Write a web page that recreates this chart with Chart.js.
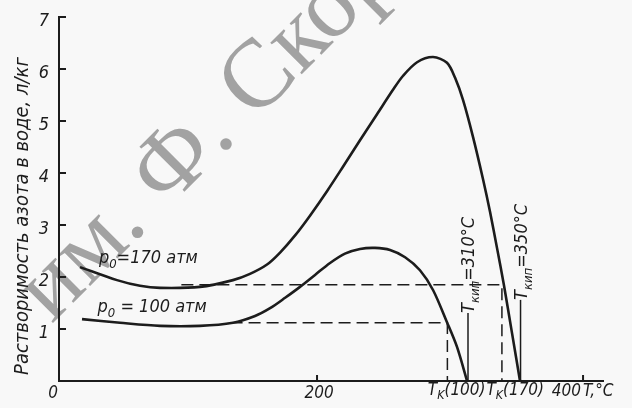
<!DOCTYPE html>
<html>
<head>
<meta charset="utf-8">
<script src="https://cdn.jsdelivr.net/npm/chart.js@4.4.1/dist/chart.umd.min.js"></script>
<style>
  html, body { margin: 0; padding: 0; background: #f8f8f8; }
  #wrap { width: 632px; height: 408px; }
</style>
</head>
<body>
<div id="wrap"><canvas id="chart"></canvas></div>
<script>
// ── Data ─────────────────────────────────────────────────────
// p0 = 170 atm
const temp170 = [21.8, 49.6, 66.9, 82, 112, 136.8, 149.6, 162.4, 172.2, 183.5, 194.7, 207.5, 219.5, 232.3, 245.1, 257.1, 264.7, 275.2, 287.2, 297.7, 303.8, 309.8, 317.3, 324.8, 330.1, 335.3, 340.6, 346.6, 352.6];
const sol170  = [2.19, 1.94, 1.83, 1.79, 1.81, 1.94, 2.06, 2.24, 2.47, 2.80, 3.18, 3.65, 4.12, 4.63, 5.13, 5.60, 5.87, 6.13, 6.23, 6.12, 5.83, 5.40, 4.69, 3.88, 3.25, 2.56, 1.83, 0.92, 0];
// p0 = 100 atm
const temp100 = [23.3, 51.9, 82, 112, 136.8, 153.4, 164.7, 176, 187.2, 198.5, 209.8, 221, 232.3, 243.6, 254.9, 266.2, 277.4, 287.2, 297.7, 305.3, 312.8];
const sol100  = [1.19, 1.12, 1.06, 1.06, 1.12, 1.25, 1.40, 1.60, 1.81, 2.04, 2.27, 2.45, 2.54, 2.56, 2.52, 2.38, 2.13, 1.75, 1.13, 0.65, 0];

// dashed guides to the critical temperatures
const guide170X = [98, 339, 339];
const guide170Y = [1.85, 1.85, 0];
const guide100X = [135, 298, 298];
const guide100Y = [1.12, 1.12, 0];

// boiling point markers
const boil310X = [313.5, 313.5];
const boil310Y = [0, 1.31];
const boil350X = [353, 353];
const boil350Y = [0, 1.56];

// axes
const xTickValues = [0, 200, 400];
const xTickLabels = ["0", "200", "400"];
const yTickValues = [1, 2, 3, 4, 5, 6, 7];
const yTickLabels = ["1", "2", "3", "4", "5", "6", "7"];
const critValues  = [305, 349];
const critLabels  = ["(100)", "(170)"];

const INK  = "#1c1c1c";
const FONT = '"Liberation Sans Narrow", "DejaVu Sans Condensed", "Liberation Sans", sans-serif';

const pts = (xs, ys) => xs.map((x, i) => ({ x, y: ys[i] }));

// text made of parts, some of them subscripts
function partsWidth(ctx, parts, size) {
  let w = 0;
  parts.forEach(p => {
    ctx.font = `italic ${p.sub ? size * 0.72 : size}px ${FONT}`;
    w += ctx.measureText(p.t).width;
  });
  return w;
}
function drawParts(ctx, x, y, parts, size) {
  let cx = x;
  parts.forEach(p => {
    ctx.font = `italic ${p.sub ? size * 0.72 : size}px ${FONT}`;
    ctx.fillText(p.t, cx, p.sub ? y + size * 0.28 : y);
    cx += ctx.measureText(p.t).width;
  });
}

// ── Decorations plugin ───────────────────────────────────────
const decor = {
  id: "decor",
  beforeDraw(chart) {
    const ctx = chart.ctx;
    ctx.save();
    ctx.fillStyle = "#f8f8f8";
    ctx.fillRect(0, 0, chart.width, chart.height);

    // library stamp across the scan
    ctx.translate(137, 232);
    ctx.rotate(-Math.PI / 4);
    ctx.font = '97px "Liberation Serif", "DejaVu Serif", serif';
    ctx.fillStyle = "#a2a2a2";
    ctx.textBaseline = "alphabetic";
    const w1 = ctx.measureText("им").width;
    const wd = ctx.measureText(".").width;
    ctx.fillText("им. Ф. Скорины", -(w1 + wd / 2), 5);
    ctx.restore();
  },
  afterDraw(chart) {
    const ctx = chart.ctx;
    const xs = chart.scales.x, ys = chart.scales.y;
    const area = chart.chartArea;
    ctx.save();
    ctx.strokeStyle = INK;
    ctx.fillStyle = INK;
    ctx.lineWidth = 2;

    // inward tick marks
    yTickValues.forEach(v => {
      const py = ys.getPixelForValue(v);
      ctx.beginPath();
      ctx.moveTo(area.left, py);
      ctx.lineTo(area.left + 7, py);
      ctx.stroke();
    });
    xTickValues.slice(1).forEach(v => {
      const px = xs.getPixelForValue(v);
      ctx.beginPath();
      ctx.moveTo(px, area.bottom);
      ctx.lineTo(px, area.bottom - 6);
      ctx.stroke();
    });

    // tick labels
    ctx.font = `italic 18px ${FONT}`;
    ctx.textBaseline = "middle";
    ctx.textAlign = "right";
    yTickValues.forEach((v, i) => {
      ctx.fillText(yTickLabels[i], area.left - 10, ys.getPixelForValue(v) + 4);
    });
    ctx.font = `italic 17px ${FONT}`;
    ctx.textAlign = "center";
    xTickValues.forEach((v, i) => {
      const lbl = xTickLabels[i];
      const px = xs.getPixelForValue(v);
      if (i === xTickValues.length - 1) {
        ctx.textAlign = "right";
        ctx.fillText(lbl, px - 2, area.bottom + 11);
        ctx.textAlign = "left";
        ctx.fillText("T,°C", px, area.bottom + 11);
        ctx.textAlign = "center";
      } else {
        ctx.fillText(lbl, px + 2, area.bottom + 13);
      }
    });

    // critical temperature labels
    ctx.textAlign = "left";
    critValues.forEach((v, i) => {
      const parts = [{ t: "T" }, { t: "K", sub: true }, { t: critLabels[i] }];
      const w = partsWidth(ctx, parts, 17);
      drawParts(ctx, xs.getPixelForValue(v) - w / 2, area.bottom + 10, parts, 17);
    });

    // curve labels
    ctx.textBaseline = "alphabetic";
    drawParts(ctx, xs.getPixelForValue(36), ys.getPixelForValue(2.27),
      [{ t: "p" }, { t: "0", sub: true }, { t: "=170 атм" }], 18);
    drawParts(ctx, xs.getPixelForValue(35), ys.getPixelForValue(1.33),
      [{ t: "p" }, { t: "0", sub: true }, { t: " = 100 атм" }], 18);

    // boiling point labels (vertical)
    [[boil310X[1], boil310Y[1], "=310°C"], [boil350X[1], boil350Y[1], "=350°C"]].forEach(([bx, by, txt]) => {
      ctx.save();
      ctx.translate(xs.getPixelForValue(bx) + 6, ys.getPixelForValue(by));
      ctx.rotate(-Math.PI / 2);
      drawParts(ctx, 0, 0, [{ t: "T" }, { t: "кип", sub: true }, { t: txt }], 18);
      ctx.restore();
    });

    // y axis title
    ctx.save();
    ctx.translate(23, 216);
    ctx.rotate(-Math.PI / 2);
    ctx.textAlign = "center";
    ctx.textBaseline = "middle";
    ctx.font = `italic 20px ${FONT}`;
    ctx.fillText("Растворимость азота в воде, л/кг", 0, 0);
    ctx.restore();

    ctx.restore();
  }
};

// ── Chart ────────────────────────────────────────────────────
const solidLine = { showLine: true, pointRadius: 0, borderColor: INK, borderWidth: 2.6, fill: false, tension: 0.3 };
const dashLine  = { showLine: true, pointRadius: 0, borderColor: INK, borderWidth: 1.5, borderDash: [12, 6], fill: false, tension: 0 };
const thinLine  = { showLine: true, pointRadius: 0, borderColor: INK, borderWidth: 1.5, fill: false, tension: 0 };

new Chart(document.getElementById("chart"), {
  type: "scatter",
  data: {
    datasets: [
      { label: "p0 = 170 атм", data: pts(temp170, sol170), ...solidLine },
      { label: "p0 = 100 атм", data: pts(temp100, sol100), ...solidLine },
      { label: "guide 170", data: pts(guide170X, guide170Y), ...dashLine },
      { label: "guide 100", data: pts(guide100X, guide100Y), ...dashLine },
      { label: "Tкип 310", data: pts(boil310X, boil310Y), ...thinLine },
      { label: "Tкип 350", data: pts(boil350X, boil350Y), ...thinLine }
    ]
  },
  options: {
    responsive: true,
    maintainAspectRatio: false,
    animation: false,
    layout: { padding: { left: 59, right: 29, top: 17, bottom: 27 } },
    plugins: { legend: { display: false }, tooltip: { enabled: false } },
    scales: {
      x: {
        type: "linear", min: 6, max: 415,
        ticks: { display: false },
        grid: { display: false, drawTicks: false, tickLength: 0 },
        border: { display: true, color: INK, width: 2 }
      },
      y: {
        type: "linear", min: 0, max: 7,
        ticks: { display: false },
        grid: { display: false, drawTicks: false, tickLength: 0 },
        border: { display: true, color: INK, width: 2 }
      }
    }
  },
  plugins: [decor]
});
</script>
</body>
</html>
